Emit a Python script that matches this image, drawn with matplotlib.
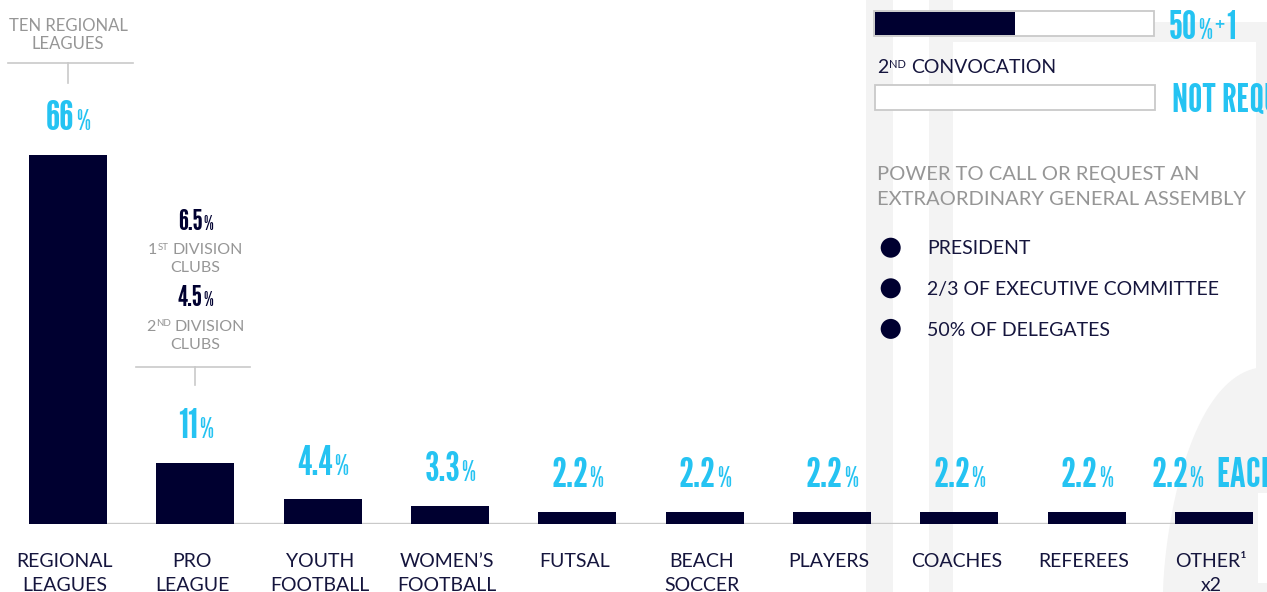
import matplotlib
matplotlib.use("Agg")
import matplotlib.pyplot as plt
from matplotlib.patches import Rectangle, Circle, Polygon
from matplotlib.transforms import ScaledTranslation
import numpy as np

# seat shares in the general assembly (%)
categories = ["REGIONAL\nLEAGUES", "PRO\nLEAGUE", "YOUTH\nFOOTBALL", "WOMEN’S\nFOOTBALL", "FUTSAL",
              "BEACH\nSOCCER", "PLAYERS", "COACHES", "REFEREES", "OTHER¹\nx2"]
shares = [66, 11, 4.4, 3.3, 2.2, 2.2, 2.2, 2.2, 2.2, 2.2]
label_suffix = ["", "", "", "", "", "", "", "", "", "EACH"]

# pro league split
pro_split = [6.5, 4.5]
pro_split_ord = [("1", "ST"), ("2", "ND")]
pro_split_names = ["DIVISION", "CLUBS"]

# quorum panel
quorum_fill = [0.505, 0.0]
quorum_text = [("50", "%", "+1"), ("NOT REQUIRED", "", "")]
convene_by = ["PRESIDENT", "2/3 OF EXECUTIVE COMMITTEE", "50% OF DELEGATES"]

NAVY = "#000030"
TXT = "#15153d"
CYAN = "#25c3f2"
GRAY = "#969696"
LINE = "#c9c9c9"
SHADE = "#f3f3f3"
BODY = ["Lato", "DejaVu Sans"]
COND = ["League Gothic", "DejaVu Sans"]

W, H = 1267, 592
fig = plt.figure(figsize=(W / 100, H / 100), dpi=100)
R = fig.canvas.get_renderer()


def box(x0, y0, x1, y1, **kw):
    # pixel box, y measured from the top
    p = Rectangle((x0, H - y1), x1 - x0, y1 - y0, transform=None, **kw)
    fig.add_artist(p)
    return p


def run(parts, x, y, ha="left"):
    # parts: (text, size, family, color, rise_px, gap_px); y is baseline px from top
    objs = []
    for txt, size, fam, col, rise, gap in parts:
        t = fig.text(0, 0, txt, fontsize=size, family=fam, color=col, transform=None,
                     va="baseline", ha="left", zorder=5)
        objs.append((t, rise, gap))
    widths = [t.get_window_extent(R).width for t, _, _ in objs]
    total = sum(widths) + sum(g for _, _, g in objs)
    x0 = x - total / 2 if ha == "center" else x
    for (t, rise, gap), w in zip(objs, widths):
        x0 += gap
        t.set_position((x0, H - y + rise))
        x0 += w


# faint watermark shapes in the background
for x0, y0, x1, y1 in [(866, 0, 893, 592), (929, 0, 953, 592), (953, 22, 1267, 42), (1256, 42, 1267, 380)]:
    box(x0, y0, x1, y1, color=SHADE, lw=0, zorder=-5)
tt = np.linspace(0, 1, 40)
arc = [(1163 + 104 * t ** 1.5, H - 592 + 225 * (1 - (1 - t) ** 2)) for t in tt]
fig.add_artist(Polygon(arc + [(1267, 0), (1163, 0)], closed=True, transform=None, color=SHADE, lw=0, zorder=-5))
box(1258, 493, 1267, 583, color="white", lw=0, zorder=-4)

# bar chart
ax = fig.add_axes([0, 68 / H, 1, 1 - 68 / H])
ax.patch.set_alpha(0)
step = 127.33
x = np.arange(len(shares))
bw = 0.613
ax.bar(x, shares, width=bw, color=NAVY, zorder=3)
ax.plot([x[0] - bw / 2, x[-1] + bw / 2], [0, 0], color=LINE, lw=1.7, zorder=2, solid_capstyle="butt")
ax.set_xlim(-68 / step, (W - 68) / step)
ax.set_ylim(0, 524 / (369 / 66))
for s in ax.spines.values():
    s.set_visible(False)
ax.set_yticks([])
ax.set_xticks(x, categories)
ax.tick_params(axis="x", length=0, pad=21)
shift = ScaledTranslation(-3 / 100, 0, fig.dpi_scale_trans)
for t in ax.get_xticklabels():
    t.set_fontfamily(BODY)
    t.set_fontsize(14)
    t.set_color(TXT)
    t.set_linespacing(1.5)
    t.set_transform(t.get_transform() + shift)

# value labels above each bar
for xi, v, suf in zip(x, shares, label_suffix):
    px, py = ax.transData.transform((xi, v))
    parts = [(f"{v:g}", 30, COND, CYAN, 0, 0), ("%", 20, COND, CYAN, 0, 1)]
    if suf:
        parts.append((suf, 30, COND, CYAN, 0, 13))
    run(parts, px, H - py - 24.5, ha="center")

# regional leagues callout
cx0 = ax.transData.transform((x[0], 0))[0]
run([("TEN REGIONAL", 12, BODY, GRAY, 0, 0)], cx0, 30.7, ha="center")
run([("LEAGUES", 12, BODY, GRAY, 0, 0)], cx0, 49.3, ha="center")
fig.add_artist(plt.Line2D([8, 132.5], [H - 63.3] * 2, transform=None, color=LINE, lw=1.2))
fig.add_artist(plt.Line2D([cx0] * 2, [H - 63.3, H - 82.7], transform=None, color=LINE, lw=1.2))

# pro league callout
cx1 = ax.transData.transform((x[1], 0))[0]
for k, (val, (num, sup)) in enumerate(zip(pro_split, pro_split_ord)):
    yb = 229.5 + 76.5 * k
    run([(f"{val:g}", 21, COND, NAVY, 0, 0), ("%", 14, COND, NAVY, 0, 1)], cx1, yb, ha="center")
    run([(num, 11.5, BODY, GRAY, 0, 0), (sup, 7, BODY, GRAY, 4.5, 0.5),
         (pro_split_names[0], 11.5, BODY, GRAY, 0, 4)], cx1, yb + 24.8, ha="center")
    run([(pro_split_names[1], 11.5, BODY, GRAY, 0, 0)], cx1, yb + 42.8, ha="center")
fig.add_artist(plt.Line2D([136, 249.5], [H - 366.7] * 2, transform=None, color=LINE, lw=1.2))
fig.add_artist(plt.Line2D([cx1] * 2, [H - 366.7, H - 385], transform=None, color=LINE, lw=1.2))

# quorum bars
for k, (fill, (a, b, c)) in enumerate(zip(quorum_fill, quorum_text)):
    y0 = 11 + 74 * k
    x0, x1 = 874 + k, 1154 + k
    box(x0, y0, x1, y0 + 25, facecolor="white", edgecolor=LINE, lw=1.3, zorder=3)
    if fill > 0:
        box(x0 + 1, y0 + 1, x0 + 1 + (x1 - x0 - 2) * fill, y0 + 24, color=NAVY, lw=0, zorder=4)
    parts = [(a, 29, COND, CYAN, 0, 0)]
    if b:
        parts += [(b, 20, COND, CYAN, 0, 1), (c[0], 14, COND, CYAN, 8, 2), (c[1:], 29, COND, CYAN, 0, 1.5)]
    run(parts, 1169 + 3 * k, y0 + 28 - k * 0.5, ha="left")

run([("2", 14, BODY, TXT, 0, 0), ("ND", 8, BODY, TXT, 5.5, 0.5), ("CONVOCATION", 14, BODY, TXT, 0, 5)],
    877, 73)

# extraordinary general assembly
run([("POWER TO CALL OR REQUEST AN", 14.5, BODY, GRAY, 0, 0)], 877, 180)
run([("EXTRAORDINARY GENERAL ASSEMBLY", 14.5, BODY, GRAY, 0, 0)], 877, 205)
for k, name in enumerate(convene_by):
    yc = 247.7 + 40.6 * k
    fig.add_artist(Circle((890.7, H - yc), 10, transform=None, color=NAVY, lw=0))
    run([(name, 14, BODY, TXT, 0, 0)], 927, yc + 6.8)

fig.savefig("out.png", dpi=100)
